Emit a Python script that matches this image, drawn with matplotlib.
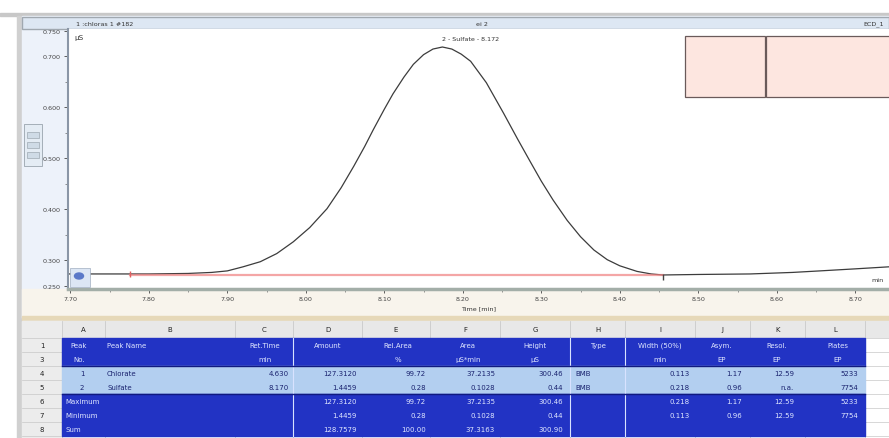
"""Chromatogram screenshot (sulfate peak) with the integration results table below."""

import matplotlib
import matplotlib.pyplot as plt
from matplotlib.patches import Ellipse, Rectangle

matplotlib.use("Agg")

W, H = 889, 439

# chromatogram trace (time in min, signal in uS)
time_min = [7.697, 7.75, 7.80, 7.85, 7.88, 7.90, 7.92, 7.942, 7.963, 7.984,
            8.005, 8.027, 8.045, 8.061, 8.075, 8.086, 8.100, 8.111, 8.125, 8.137,
            8.150, 8.162, 8.174, 8.186, 8.198, 8.210, 8.230, 8.252, 8.270, 8.286,
            8.300, 8.315, 8.333, 8.350, 8.367, 8.384, 8.400, 8.422, 8.440, 8.455,
            8.50, 8.566, 8.62, 8.655, 8.70, 8.743]
signal_us = [0.273, 0.273, 0.273, 0.274, 0.276, 0.279, 0.287, 0.297, 0.313, 0.336,
             0.364, 0.401, 0.442, 0.484, 0.523, 0.556, 0.596, 0.626, 0.659, 0.684,
             0.703, 0.714, 0.718, 0.714, 0.704, 0.690, 0.648, 0.588, 0.537, 0.493,
             0.455, 0.418, 0.378, 0.346, 0.320, 0.301, 0.289, 0.278, 0.273, 0.271,
             0.272, 0.273, 0.276, 0.279, 0.283, 0.287]
baseline_t = [7.776, 8.455]
baseline_v = [0.271, 0.271]
peak_t, peak_v = 8.174, 0.718
peak_label = "2 - Sulfate - 8.172"

x_ticks = [7.70, 7.80, 7.90, 8.00, 8.10, 8.20, 8.30, 8.40, 8.50, 8.60, 8.70]
y_ticks = [0.250, 0.300, 0.400, 0.500, 0.600, 0.700, 0.750]

# results table
col_letters = ["A", "B", "C", "D", "E", "F", "G", "H", "I", "J", "K", "L"]
row_numbers = ["1", "3", "4", "5", "6", "7", "8"]
head_1 = ["Peak", "Peak Name", "Ret.Time", "Amount", "Rel.Area", "Area",
          "Height", "Type", "Width (50%)", "Asym.", "Resol.", "Plates"]
head_2 = ["No.", "", "min", "", "%", "µS*min", "µS", "", "min", "EP", "EP", "EP"]
peak_rows = [
    ["1", "Chlorate", "4.630", "127.3120", "99.72", "37.2135", "300.46",
     "BMB", "0.113", "1.17", "12.59", "5233"],
    ["2", "Sulfate", "8.170", "1.4459", "0.28", "0.1028", "0.44",
     "BMB", "0.218", "0.96", "n.a.", "7754"],
]
summary_names = ["Maximum", "Minimum", "Sum"]
summary_rows = [
    ["127.3120", "99.72", "37.2135", "300.46", "", "0.218", "1.17", "12.59", "5233"],
    ["1.4459", "0.28", "0.1028", "0.44", "", "0.113", "0.96", "12.59", "7754"],
    ["128.7579", "100.00", "37.3163", "300.90", "", "", "", "", ""],
]

col_edges = [62, 105, 235, 293, 362, 430, 500, 570, 625, 695, 750, 805, 865]
row_edges = [339, 353, 367, 381, 395, 409, 423, 437]
DARK = "#2233c4"
LIGHT = "#b3cff0"
FS = 4.6
TFS = 5.0


def fig_rect(x0, y0, x1, y1):
    return [x0 / W, 1 - y1 / H, (x1 - x0) / W, (y1 - y0) / H]


fig = plt.figure(figsize=(W / 100, H / 100), dpi=100)
fig.patch.set_facecolor("white")

bg = fig.add_axes([0, 0, 1, 1], zorder=0)
bg.set_xlim(0, W)
bg.set_ylim(H, 0)
bg.axis("off")

# window frame and chromatogram panel
bg.add_patch(Rectangle((0, 14), W, 3, color="#c8c8c8"))
bg.add_patch(Rectangle((17, 17), 5, H - 17, color="#d0d0d0"))
bg.add_patch(Rectangle((22, 17), W - 22, 302, color="#edf2fa"))
bg.add_patch(Rectangle((22, 290), W - 22, 28, color="#f8f4ec"))
bg.add_patch(Rectangle((22, 317), W - 22, 4, color="#e6d8b8"))
bg.add_patch(Rectangle((22, 18), W - 22, 12, facecolor="#dde7f3", edgecolor="#a0a8b0", lw=1.0))
bg.text(76, 24, "1 :chloras 1 #182", fontsize=FS, va="center", color="#333333")
bg.text(482, 24, "ei 2", fontsize=FS, va="center", ha="center", color="#333333")
bg.text(884, 24, "ECD_1", fontsize=FS, va="center", ha="right", color="#333333")
bg.add_patch(Rectangle((24, 125), 18, 42, facecolor="#e4ecf4", edgecolor="#9aa4ae", lw=0.6))
for yy in (133, 143, 153):
    bg.add_patch(Rectangle((27, yy), 12, 6, facecolor="#cfdbe6", edgecolor="#8f9aa4", lw=0.4))

# chromatogram
ax = fig.add_axes(fig_rect(68, 30, W, 290), zorder=1)
ax.set_facecolor("white")
ax.plot(time_min, signal_us, color="#3c3c3c", lw=0.9)
ax.plot(baseline_t, baseline_v, color="#f08080", lw=1.6, alpha=0.7)
ax.set_xlim(7.697, 8.743)
ax.set_ylim(0.2435, 0.7533)
ax.set_xticks(x_ticks)
ax.set_xticklabels([f"{t:.2f}" for t in x_ticks])
ax.set_yticks(y_ticks)
ax.set_yticklabels([f"{v:.3f}" for v in y_ticks])
ax.set_xticks([t + 0.05 for t in x_ticks[:-1]], minor=True)
ax.set_yticks([0.35, 0.45, 0.55, 0.65], minor=True)
ax.tick_params(labelsize=FS, colors="#444444", length=3, width=0.6, pad=2)
ax.tick_params(which="minor", length=2, width=0.5, color="#666666")
for side in ("top", "right"):
    ax.spines[side].set_visible(False)
ax.spines["left"].set_color("#8a96a6")
ax.spines["left"].set_linewidth(1.5)
ax.spines["bottom"].set_color("#a3aea8")
ax.spines["bottom"].set_linewidth(2.5)
ax.text(0.008, 0.96, "µS", transform=ax.transAxes, fontsize=FS + 0.6, color="#333333")
ax.annotate(peak_label, (peak_t, peak_v), xytext=(0, 4), textcoords="offset points",
            fontsize=FS, ha="left", va="bottom", color="#333333")
ax.plot([7.776], [0.273], marker="|", color="#e06060", ms=4)
ax.plot([8.455], [0.268], marker="|", color="#444444", ms=4)
ax.set_xlabel("Time [min]", fontsize=FS, color="#333333", labelpad=3)

ov = fig.add_axes([0, 0, 1, 1], zorder=3)
ov.set_xlim(0, W)
ov.set_ylim(H, 0)
ov.axis("off")
ov.add_patch(Rectangle((685, 37), 80, 61, facecolor="#fde6e0", edgecolor="#6a5a5a", lw=0.9))
ov.add_patch(Rectangle((766, 37), 124, 61, facecolor="#fde6e0", edgecolor="#6a5a5a", lw=0.9))
ov.add_patch(Rectangle((70, 269), 20, 19, facecolor="#dce6f4", edgecolor="#a0aec0", lw=0.5))
ov.add_patch(Ellipse((79, 277), 9, 6, color="#5a78c8"))
ov.text(884, 281, "min", fontsize=FS, ha="right", va="center", color="#333333")

# spreadsheet
bg.add_patch(Rectangle((22, 322), W - 22, 16, color="#e8e8e8"))
bg.add_patch(Rectangle((22, 322), 40, H - 322, color="#ececec"))
for i, letter in enumerate(col_letters):
    cx = (col_edges[i] + col_edges[i + 1]) / 2
    bg.text(cx, 330, letter, fontsize=TFS, ha="center", va="center", color="#222222")
    bg.plot([col_edges[i], col_edges[i]], [322, H], color="#c4c4c4", lw=0.5)
bg.plot([865, 865], [322, H], color="#c4c4c4", lw=0.5)
for j, num in enumerate(row_numbers):
    cy = (row_edges[j] + row_edges[j + 1]) / 2
    bg.text(42, cy, num, fontsize=TFS, ha="center", va="center", color="#222222")
for y in row_edges:
    bg.plot([22, W], [y, y], color="#c8c8c8", lw=0.5)

row_colors = [DARK, DARK, LIGHT, LIGHT, DARK, DARK, DARK]
for j, colr in enumerate(row_colors):
    bg.add_patch(Rectangle((col_edges[0], row_edges[j]), col_edges[-1] - col_edges[0],
                           row_edges[j + 1] - row_edges[j], color=colr, zorder=2))
for x in (293, 570, 625):
    bg.plot([x, x], [row_edges[0], row_edges[-1]], color="#d8e2ff", lw=0.8, zorder=3)
bg.plot([col_edges[0], col_edges[-1]], [row_edges[2], row_edges[2]], color="#101a80", lw=1, zorder=3)
bg.plot([col_edges[0], col_edges[-1]], [row_edges[4], row_edges[4]], color="#101a80", lw=1, zorder=3)

# column text positions: (x, ha) for values
val_pos = [(82, "center"), (107, "left"), (289, "right"), (357, "right"), (426, "right"),
           (495, "right"), (563, "right"), (575, "left"), (690, "right"), (742, "right"),
           (794, "right"), (858, "right")]
head_x = [70, 107, 265, 328, 398, 468, 535, 598, 660, 722, 777, 838]
head_ha = ["left", "left", "center", "center", "center", "center", "center",
           "center", "center", "center", "center", "center"]
txt_dark = "#dfe6ff"
txt_light = "#1b2470"
for i in range(12):
    cy1 = (row_edges[0] + row_edges[1]) / 2
    cy2 = (row_edges[1] + row_edges[2]) / 2
    bg.text(head_x[i], cy1, head_1[i], fontsize=TFS, ha=head_ha[i], va="center", color=txt_dark, zorder=4)
    x2 = head_x[i] + (3 if i == 0 else 0)
    bg.text(x2, cy2, head_2[i], fontsize=TFS, ha=head_ha[i], va="center", color=txt_dark, zorder=4)
for j, row in enumerate(peak_rows):
    cy = (row_edges[2 + j] + row_edges[3 + j]) / 2
    for i, val in enumerate(row):
        x, ha = val_pos[i]
        bg.text(x, cy, val, fontsize=TFS, ha=ha, va="center", color=txt_light, zorder=4)
for j, (name, row) in enumerate(zip(summary_names, summary_rows)):
    cy = (row_edges[4 + j] + row_edges[5 + j]) / 2
    bg.text(65, cy, name, fontsize=TFS, ha="left", va="center", color=txt_dark, zorder=4)
    for i, val in enumerate(row):
        x, ha = val_pos[i + 3]
        bg.text(x, cy, val, fontsize=TFS, ha=ha, va="center", color=txt_dark, zorder=4)

fig.savefig("out.png", dpi=100)
plt.close(fig)
